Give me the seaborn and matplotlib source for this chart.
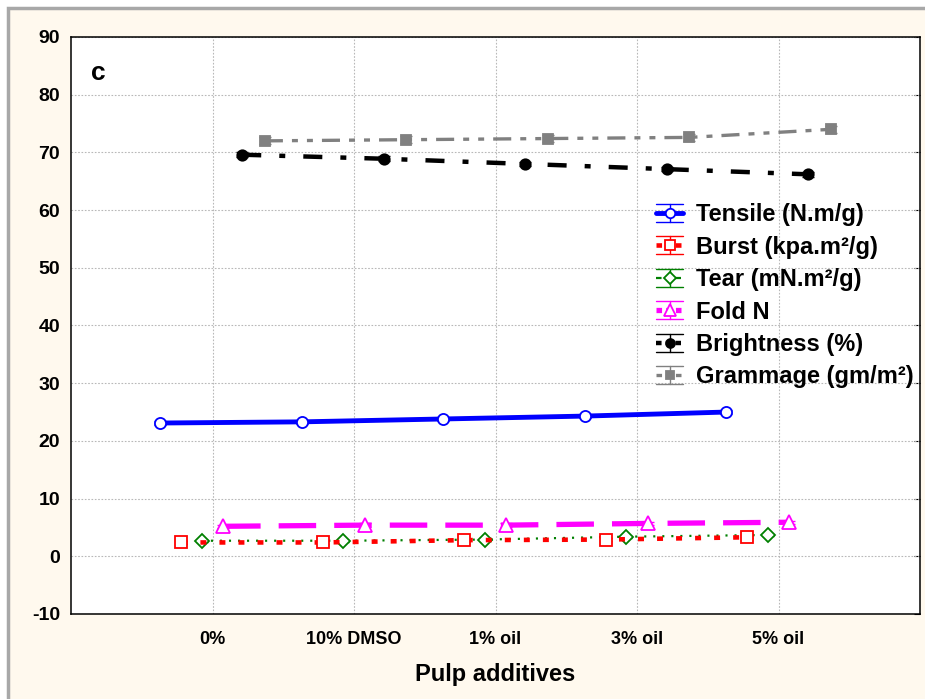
import numpy as np
import pandas as pd
import matplotlib
matplotlib.use("Agg")
import matplotlib.pyplot as plt
import seaborn as sns
from matplotlib.lines import Line2D
from matplotlib.legend_handler import HandlerBase
from matplotlib.patches import Rectangle

# ---------------- data ----------------
categories = ["0%", "10% DMSO", "1% oil", "3% oil", "5% oil"]
tensile = [23.1, 23.3, 23.8, 24.3, 25.0]
burst = [2.4, 2.4, 2.8, 2.9, 3.3]
tear = [2.7, 2.7, 2.9, 3.4, 3.7]
fold = [5.2, 5.4, 5.4, 5.7, 5.9]
brightness = [69.6, 68.9, 68.0, 67.1, 66.2]
grammage = [72.0, 72.2, 72.4, 72.6, 74.0]

err_tensile = [0.3, 0.3, 0.3, 0.3, 0.3]
err_burst = [0.2, 0.2, 0.2, 0.2, 0.2]
err_tear = [0.2, 0.2, 0.2, 0.2, 0.2]
err_fold = [0.3, 0.3, 0.3, 0.3, 0.3]
err_brightness = [0.4, 0.4, 0.4, 0.4, 0.4]
err_grammage = [0.6, 0.6, 0.6, 0.6, 0.6]

labels = ["Tensile (N.m/g)", "Burst (kpa.m\u00b2/g)", "Tear (mN.m\u00b2/g)",
          "Fold N", "Brightness (%)", "Grammage (gm/m\u00b2)"]
yticks = list(range(-10, 91, 10))

# ---------------- style ----------------
sns.set_style("white")
plt.rcParams["font.family"] = ["Liberation Sans", "DejaVu Sans"]
plt.rcParams["font.weight"] = "bold"
plt.rcParams["text.color"] = "black"
plt.rcParams["axes.labelcolor"] = "black"
plt.rcParams["xtick.color"] = "black"
plt.rcParams["ytick.color"] = "black"
plt.rcParams["lines.scale_dashes"] = False

fig = plt.figure(figsize=(9.25, 6.99), dpi=100, facecolor="white")
fig.patches.append(Rectangle((8 / 925, -0.05), 1.1, 1 - 8 / 699 + 0.05,
                             transform=fig.transFigure, facecolor="#FFF9EE",
                             edgecolor="#A8A8A8", linewidth=2.5, zorder=-10))
ax = fig.add_axes([71 / 925, 1 - 614 / 699, (920 - 71) / 925, (614 - 37) / 699])
ax.set_facecolor("white")

styles = [
    # values, errs, color, offset, lw, linestyle, marker, ms, mfc, z
    (tensile, err_tensile, "#0000FF", -0.37, 3.5, "-", "o", 8, "white", 5),
    (burst, err_burst, "#FF0000", -0.22, 3.3, (0, (4.3, 9.4)), "s", 9, "white", 4),
    (tear, err_tear, "#008000", -0.075, 1.6, (0, (1.5, 5.0)), "D", 7, "white", 3),
    (fold, err_fold, "#FF00FF", 0.075, 3.8, (0, (27, 13)), "^", 10, "white", 6),
    (brightness, err_brightness, "#000000", 0.21, 3.2, (0, (13.7, 13, 4.3, 13)), "o", 7.5, "#000000", 7),
    (grammage, err_grammage, "#808080", 0.37, 2.4, (0, (13, 6.5, 4.3, 6.5, 4.3, 6.5)), "s", 7, "#808080", 8),
]

base = np.arange(1, len(categories) + 1)
handles = []
for (vals, errs, col, off, lw, ls, mk, ms, mfc, z), lab in zip(styles, labels):
    xpos = base + off
    ax.errorbar(xpos, vals, yerr=errs, fmt="none", ecolor=col, elinewidth=1,
                capsize=4, capthick=1, zorder=z - 0.5)
    sns.lineplot(x=xpos, y=vals, ax=ax, color=col, linewidth=lw, linestyle=ls,
                 marker=mk, markersize=ms, markerfacecolor=mfc,
                 markeredgecolor=col, markeredgewidth=1.3, errorbar=None,
                 legend=False, zorder=z)
    line = ax.lines[-1]
    line.set_label(lab)
    handles.append(line)


class ErrHandler(HandlerBase):
    def create_artists(self, legend, orig, xdescent, ydescent, width, height,
                       fontsize, trans):
        x0 = -xdescent
        x1 = x0 + width
        xc = (x0 + x1) / 2
        yc = -ydescent + height / 2
        half = height * 0.55
        c = orig.get_color()
        arts = [
            Line2D([x0, x1], [yc - half, yc - half], color=c, lw=1),
            Line2D([x0, x1], [yc + half, yc + half], color=c, lw=1),
            Line2D([xc, xc], [yc - half, yc + half], color=c, lw=1),
            Line2D([x0, x1], [yc, yc], color=c, lw=orig.get_linewidth(),
                   linestyle=orig.get_linestyle() if orig.get_linestyle() == "-" else (0, (4, 3))),
            Line2D([xc], [yc], marker=orig.get_marker(), ms=orig.get_markersize() * 0.85,
                   mfc=orig.get_markerfacecolor(), mec=orig.get_markeredgecolor(),
                   mew=orig.get_markeredgewidth(), ls="none"),
        ]
        for a in arts:
            a.set_transform(trans)
        return arts


leg = ax.legend(handles=handles, labels=labels, handler_map={Line2D: ErrHandler()},
                loc="upper left", bbox_to_anchor=(0.689, 0.712), frameon=False,
                prop={"weight": "bold", "size": 17}, handlelength=1.15,
                handletextpad=0.55, labelspacing=0.4, borderaxespad=0,
                borderpad=0)

# ---------------- axes ----------------
ax.set_xlim(0, 6)
ax.set_ylim(-10, 90)
ax.set_xticks(base)
ax.set_xticklabels(categories, fontsize=13, fontweight="bold")
ax.set_yticks(yticks)
ax.set_yticklabels([str(v) for v in yticks], fontsize=14, fontweight="bold")
ax.grid(True, color="#B8B8B8", linestyle=(0, (1.2, 1.2)), linewidth=0.8)
ax.set_axisbelow(True)
for s in ax.spines.values():
    s.set_visible(True)
    s.set_color("black")
    s.set_linewidth(1.1)
ax.tick_params(axis="y", direction="out", length=4, width=1, pad=4, colors="black")
ax.tick_params(axis="x", direction="in", length=4, width=1, pad=12, colors="black")
sec = ax.secondary_yaxis("right")
sec.set_yticks(yticks)
sec.tick_params(direction="in", length=4, labelright=False)
sec.spines["right"].set_visible(False)
ax.set_xlabel("Pulp additives", fontsize=17, fontweight="bold", labelpad=11)
ax.set_ylabel("")
ax.text(0.032, 0.937, "c", transform=ax.transAxes, fontsize=19,
        fontweight="bold", ha="center", va="center")

fig.savefig("out.png", dpi=100, facecolor=fig.get_facecolor())
